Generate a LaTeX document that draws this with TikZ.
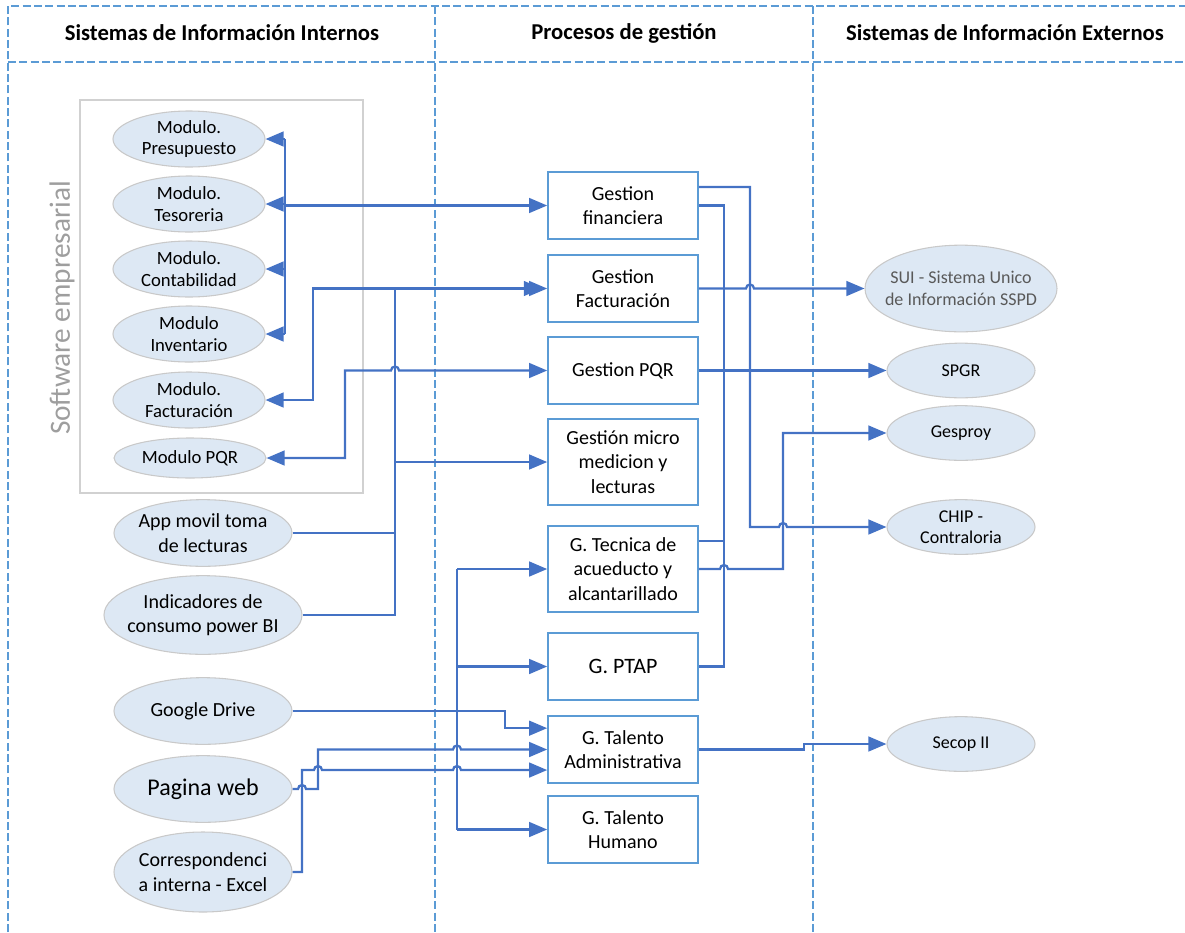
\documentclass[tikz,border=0pt]{standalone}
\usepackage{fontspec}
\setmainfont{Carlito}
\usetikzlibrary{shapes.geometric,arrows.meta,calc}
\definecolor{linkblue}{HTML}{4472C4}
\definecolor{laneblue}{HTML}{5B9BD5}
\definecolor{cellfill}{HTML}{DDE8F4}
\definecolor{cellrim}{HTML}{C9C9C9}

\begin{document}
\begin{tikzpicture}[x=0.75pt,y=-0.75pt,>={Triangle[length=13.5pt,width=11pt]}]
    \tikzstyle{link}=[draw=linkblue,line width=1.7pt]
    \tikzstyle{lane}=[draw=laneblue,line width=1.2pt,dash pattern=on 6pt off 2.5pt]
    \tikzstyle{system}=[ellipse,draw=cellrim,fill=cellfill,line width=0.8pt,inner xsep=-12pt,inner ysep=-4pt,align=center]
    \tikzstyle{module}=[system,minimum width=114pt,minimum height=42pt,font=\fontsize{14}{16}\selectfont]
    \tikzstyle{source}=[system,minimum width=133.5pt,minimum height=50pt,font=\fontsize{15}{18.5}\selectfont]
    \tikzstyle{outside}=[system,minimum width=111pt,minimum height=41pt,font=\fontsize{13.5}{16}\selectfont]
    \tikzstyle{process}=[rectangle,draw=laneblue,fill=white,line width=1.2pt,minimum width=112.5pt,inner sep=0pt,align=center,font=\fontsize{15}{18.5}\selectfont]
    \tikzstyle{head}=[font=\fontsize{17}{20}\selectfont\bfseries]

    \useasboundingbox (0,0) rectangle (1185,932);

    % Draw the lanes of the table
    \draw[lane] (8,932) -- (8,6) -- (1185,6);
    \draw[lane] (8,62) -- (1185,62);
    \draw[lane] (435,6) -- (435,932);
    \draw[lane] (813,6) -- (813,932);
    \node[head] (H-1) at (222,33) {Sistemas de Información Internos};
    \node[head] (H-2) at (624,33) {Procesos de gestión};
    \node[head] (H-3) at (1005,33) {Sistemas de Información Externos};

    % Draw the software frame and its modules
    \node[draw=black!18,line width=1pt,minimum width=212.25pt,minimum height=294.75pt] (soft) at (221.5,296.5) {};
    \node[rotate=90,text=black!38,font=\fontsize{22}{24}\selectfont] (soft-label) at (62,308) {Software empresarial};
    \foreach \name/\y/\txt in {1/139/{Modulo.\\Presupuesto},2/204/{Modulo.\\Tesoreria},3/269/{Modulo.\\Contabilidad},4/334/{Modulo\\Inventario},5/400/{Modulo.\\Facturación}}
        \node[module] (M-\name) at (189,\y) {\txt};
    \node[module,minimum height=30pt] (M-6) at (190,458) {Modulo PQR};

    % Draw the other internal systems
    \node[source] (A-1) at (203,533) {App movil toma\\de lecturas};
    \node[source,minimum width=148.5pt,minimum height=59pt] (A-2) at (203,615) {Indicadores de\\consumo power BI};
    \node[source] (A-3) at (203,711) {Google Drive};
    \node[source,font=\fontsize{18}{20}\selectfont] (A-4) at (203,789) {Pagina web};
    \node[source,minimum height=60pt] (A-5) at (203,872) {Correspondenci\\a interna - Excel};

    % Draw the management processes
    \foreach \name/\y/\h/\txt in {1/205.5/50/{Gestion\\financiera},2/288.5/50/{Gestion\\Facturación},3/370.5/50/{Gestion PQR},4/462/64.5/{Gestión micro\\medicion y\\lecturas},5/569/64.5/{G. Tecnica de\\acueducto y\\alcantarillado},7/749.5/50/{G. Talento\\Administrativa},8/829.5/50/{G. Talento\\Humano}}
        \node[process,minimum height=\h pt] (P-\name) at (623,\y) {\txt};
    \node[process,minimum height=50pt,font=\fontsize{16.5}{19}\selectfont] (P-6) at (623,666.5) {G. PTAP};

    % Draw the external systems
    \node[outside,minimum width=144pt,minimum height=65pt,text=black!65] (X-1) at (961,288.5) {SUI -  Sistema Unico\\de Información SSPD};
    \node[outside] (X-2) at (961,370.5) {SPGR};
    \node[outside] (X-3) at (961,433) {Gesproy};
    \node[outside] (X-4) at (961,527) {CHIP -\\Contraloria};
    \node[outside] (X-5) at (961,744) {Secop II};

    % Bus lines
    \coordinate (bus-m) at (285,0);
    \coordinate (bus-f) at (313,0);
    \coordinate (bus-q) at (345,0);
    \coordinate (bus-r) at (395,0);
    \coordinate (bus-t) at (457,0);
    \coordinate (bus-g) at (505,0);
    \coordinate (bus-w) at (302,0);
    \coordinate (bus-p) at (318,0);
    \coordinate (bus-c) at (724,0);
    \coordinate (bus-d) at (750,0);
    \coordinate (bus-e) at (783,0);
    \coordinate (bus-s) at (804,0);
    \coordinate (fin-hi) at ([yshift=13.9pt]P-1.east);
    \coordinate (tec-hi) at ([yshift=21pt]P-5.east);
    \coordinate (ta-hi) at ([yshift=16pt]P-7.west);
    \coordinate (ta-lo) at ([yshift=-15.4pt]P-7.west);

    % Connect the modules with Gestion financiera
    \draw[link] (M-1.east -| bus-m) -- (M-4.east -| bus-m);
    \foreach \name in {1,...,4}
        \draw[link,->] (M-\name.east -| bus-m) -- (M-\name.east);
    \draw[link,->] (P-1.west -| bus-m) -- (P-1.west);

    % Connect facturacion, PQR and the readings
    \draw[link,<->,shorten <=4pt] (P-2.west) -- (P-2.west -| bus-f) |- (M-5.east);
    \draw[link,->] (A-2.east) -| (bus-r |- P-2.west) -- (P-2.west);
    \draw[link] (A-1.east) -- (A-1.east -| bus-r);
    \draw[link,->] (P-4.west -| bus-r) -- (P-4.west);
    \draw[link,<->] (M-6.east) -| (bus-q |- P-3.west) -- ([xshift=-3pt]bus-r |- P-3.west) arc[start angle=180,end angle=360,radius=4] -- (P-3.west);

    % Connect the processes with the external systems
    \draw[link,->] (P-1.east |- fin-hi) -| (bus-d |- X-4.west) -- ([xshift=-3pt]bus-e |- X-4.west) arc[start angle=180,end angle=360,radius=4] -- (X-4.west);
    \draw[link] (P-1.east) -| (bus-c |- P-6.east) -- (P-6.east);
    \draw[link,->] (P-2.east) -- ([xshift=-3pt]bus-d |- P-2.east) arc[start angle=180,end angle=360,radius=4] -- (X-1.west);
    \draw[link,->] (P-3.east) -- (X-2.west);
    \draw[link] (tec-hi) -- (tec-hi -| bus-c);
    \draw[link,->] (P-5.east) -- ([xshift=-3pt]bus-c |- P-5.east) arc[start angle=180,end angle=360,radius=4] -- (bus-e |- P-5.east) |- (X-3.west);
    \draw[link,->] (P-7.east) -- (bus-s |- P-7.east) |- (X-5.west);

    % Connect the lower internal systems with the processes
    \draw[link] (bus-t |- P-5.west) -- (bus-t |- P-8.west);
    \foreach \name in {5,6,8}
        \draw[link,->] (bus-t |- P-\name.west) -- (P-\name.west);
    \draw[link,->] (A-3.east) -| (bus-g |- ta-hi) -- (ta-hi);
    \draw[link,->] (A-4.east) -- ([xshift=-3pt]bus-w |- A-4.east) arc[start angle=180,end angle=360,radius=4] -- (bus-p |- A-4.east) -- (bus-p |- P-7.west) -- ([xshift=-3pt]bus-t |- P-7.west) arc[start angle=180,end angle=360,radius=4] -- (P-7.west);
    \draw[link,->] (A-5.east) -| (bus-w |- ta-lo) -- ([xshift=-3pt]bus-p |- ta-lo) arc[start angle=180,end angle=360,radius=4] -- ([xshift=-3pt]bus-t |- ta-lo) arc[start angle=180,end angle=360,radius=4] -- (ta-lo);
\end{tikzpicture}
\end{document}
